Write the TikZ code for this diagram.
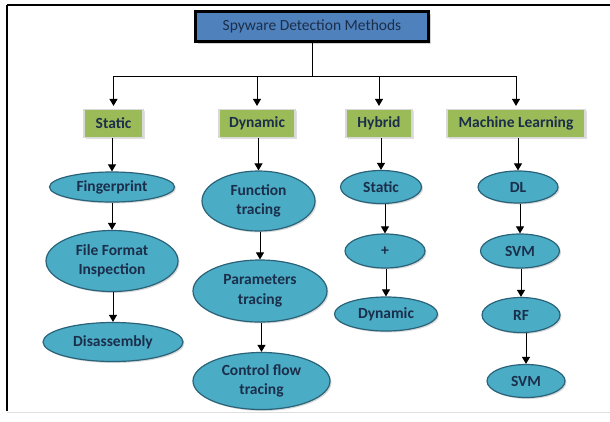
\documentclass[tikz,border=0pt]{standalone}
\usepackage{fontspec}
\setmainfont{Carlito}
\usetikzlibrary{shapes.geometric,arrows.meta,shadows}
\definecolor{titleblue}{HTML}{4F81BD}
\definecolor{boxgreen}{HTML}{9BBB59}
\definecolor{ovalcyan}{HTML}{4BACC6}
\definecolor{ovalrim}{HTML}{2A6379}
\definecolor{inkblue}{HTML}{1B2E4A}

\begin{document}
\begin{tikzpicture}[x=1pt,y=-1pt,
  every node/.style={font=\fontsize{15.5}{19.5}\selectfont, text=inkblue},
  head/.style={draw=black, line width=3pt, fill=titleblue, minimum width=233, minimum height=30, inner sep=0, drop shadow={shadow xshift=2pt, shadow yshift=-2pt, opacity=0.35}},
  group/.style={draw=gray!30, line width=1.2pt, fill=boxgreen, minimum height=28, inner sep=0, font=\fontsize{15.5}{19.5}\selectfont\bfseries, drop shadow={shadow xshift=1.5pt, shadow yshift=-1.5pt, opacity=0.25}},
  method/.style={ellipse, draw=ovalrim, line width=1.2pt, fill=ovalcyan, inner sep=0, align=center, font=\fontsize{15.5}{19.5}\selectfont\bfseries, drop shadow={shadow xshift=1.5pt, shadow yshift=-1.5pt, opacity=0.3}},
  arr/.style={-{Triangle[length=7pt,width=8pt]}, line width=1pt}]
\useasboundingbox (0,0) rectangle (610,421);

\draw[line width=2pt] (7,5) -- (610,5);
\draw[line width=2pt] (7,5) -- (7,411);
\draw[gray!25, line width=1pt] (7,412) -- (610,412);

\node[head] (title) at (312,26.5) {Spyware Detection Methods};

\node[group, minimum width=59] (static) at (113.5,123.5) {Static};
\node[group, minimum width=76] (dynamic) at (257,123.5) {Dynamic};
\node[group, minimum width=66] (hybrid) at (379,123.5) {Hybrid};
\node[group, minimum width=138] (ml) at (516,123.5) {Machine Learning};

\node[method, minimum width=125, minimum height=30] (fing) at (112,187) {Fingerprint};
\node[method, minimum width=132, minimum height=61] (ffi) at (112,261) {File Format\\Inspection};
\node[method, minimum width=140, minimum height=39] (dis) at (113,342) {Disassembly};

\node[method, minimum width=113, minimum height=60] (func) at (258.5,201) {Function\\tracing};
\node[method, minimum width=134, minimum height=62] (param) at (260,291) {Parameters\\tracing};
\node[method, minimum width=137, minimum height=57] (ctrl) at (261.5,381) {Control flow\\tracing};

\node[method, minimum width=81, minimum height=33] (hstat) at (381,187) {Static};
\node[method, minimum width=80, minimum height=34] (plus) at (385,251) {+};
\node[method, minimum width=103, minimum height=34] (hdyn) at (386,314) {Dynamic};

\node[method, minimum width=80, minimum height=32] (dl) at (518,187) {DL};
\node[method, minimum width=79, minimum height=34] (svma) at (520,251) {SVM};
\node[method, minimum width=78, minimum height=35] (rf) at (521,315) {RF};
\node[method, minimum width=78, minimum height=33] (svmb) at (526,381) {SVM};

\coordinate (hub) at (312,76);
\draw[line width=1pt] (title) -- (hub);
\draw[arr, shorten >=3pt] (hub) -| (static);
\draw[arr, shorten >=3pt] (hub) -| (dynamic);
\draw[arr, shorten >=3pt] (hub) -| (hybrid);
\draw[arr, shorten >=3pt] (hub) -| (ml);

\draw[arr] (static.south -| fing) -- (fing);
\draw[arr] (fing.south -| ffi) -- (ffi);
\draw[arr] (ffi.south -| dis) -- (dis);

\draw[arr] (dynamic.south -| func) -- (func);
\draw[arr] (func.south -| param) -- (param);
\draw[arr] (param.south -| ctrl) -- (ctrl);

\draw[arr] (hybrid.south -| hstat) -- (hstat);
\draw[arr] (hstat.south -| plus) -- (plus);
\draw[arr] (plus.south -| hdyn) -- (hdyn);

\draw[arr] (ml.south -| dl) -- (dl);
\draw[arr] (dl.south -| svma) -- (svma);
\draw[arr] (svma.south -| rf) -- (rf);
\draw[arr] (rf.south -| svmb) -- (svmb);

\end{tikzpicture}
\end{document}
